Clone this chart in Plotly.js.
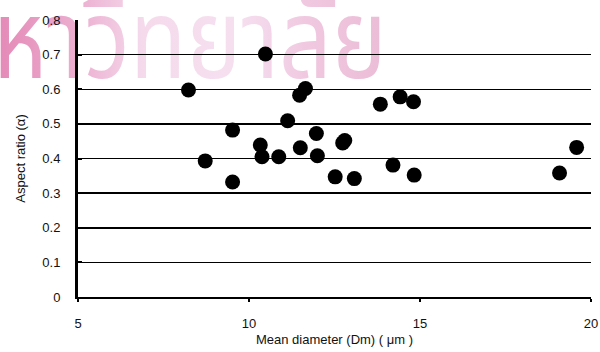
<!DOCTYPE html>
<html>
<head>
<meta charset="utf-8">
<script src="https://cdn.plot.ly/plotly-3.0.1.min.js"></script>
<style>html,body{margin:0;padding:0;background:#fff;}#chart{width:600px;height:352px;}</style>
</head>
<body>
<div id="chart"></div>
<script>
// Mean diameter Dm (µm)
const meanDiameter = [8.23, 10.48, 9.52, 8.72, 9.52, 10.33, 10.38, 10.87, 11.13, 11.48, 11.65, 11.5, 11.97, 12.0,
  12.74, 12.8, 12.52, 13.08, 14.21, 14.83, 13.84, 14.42, 14.81, 19.08, 19.58];
// Aspect ratio (alpha)
const aspectRatio = [0.598, 0.702, 0.482, 0.393, 0.332, 0.439, 0.405, 0.405, 0.509, 0.583, 0.602, 0.431, 0.472, 0.408,
  0.445, 0.452, 0.347, 0.342, 0.381, 0.352, 0.557, 0.578, 0.564, 0.358, 0.432];
const xTicks = [5, 10, 15, 20];
const yTicks = [0, 0.1, 0.2, 0.3, 0.4, 0.5, 0.6, 0.7, 0.8];
const yTickText = ['0', '0.1', '0.2', '0.3', '0.4', '0.5', '0.6', '0.7', '0.8'];
const watermark = 'หาวิทยาลัย';

const font = 'Arial, "Liberation Sans", sans-serif';
const wmFamily = '"Noto Sans Thai", "Noto Sans", Loma, Garuda, sans-serif';

const trace = {
  x: meanDiameter, y: aspectRatio, type: 'scatter', mode: 'markers',
  marker: {color: '#000', size: 15, line: {width: 0}},
  cliponaxis: false, hoverinfo: 'skip'
};

const layout = {
  width: 600, height: 352,
  margin: {l: 77.5, r: 9, t: 20, b: 55.3},
  paper_bgcolor: '#fff', plot_bgcolor: 'rgba(0,0,0,0)',
  showlegend: false,
  font: {family: font, size: 13, color: '#111'},
  xaxis: {
    range: [5, 20], tickvals: xTicks, ticktext: xTicks.map(String),
    showgrid: false, zeroline: false,
    showline: true, linecolor: '#000', linewidth: 2,
    ticks: 'outside', ticklen: 3, tickwidth: 2, tickcolor: '#000',
    ticklabelstandoff: 10,
    tickfont: {family: font, size: 13, color: '#111'},
    title: {text: 'Mean diameter (Dm) ( μm )', font: {family: font, size: 13, color: '#111'}, standoff: 5}
  },
  yaxis: {
    range: [0, 0.8], tickvals: yTicks, ticktext: yTickText,
    showgrid: true, gridcolor: '#000', gridwidth: 1.5,
    zeroline: false,
    showline: true, linecolor: '#000', linewidth: 3,
    ticks: 'inside', ticklen: 4, tickwidth: 2, tickcolor: '#000',
    ticklabelstandoff: 12,
    tickfont: {family: font, size: 13, color: '#111'},
    title: {text: 'Aspect ratio (α)', font: {family: font, size: 13, color: '#111'}, standoff: 14}
  },
  annotations: [{
    text: watermark, xref: 'paper', yref: 'paper',
    x: -0.155, y: 1.08, xanchor: 'left', yanchor: 'top',
    showarrow: false,
    font: {family: wmFamily, size: 100, color: 'rgb(240,200,222)'}
  }]
};

Plotly.newPlot('chart', [trace], layout, {staticPlot: true, displayModeBar: false}).then(function () {
  const el = document.querySelector('.annotation-text');
  if (!el) return;
  // measure the ink of the watermark to fit it to the reference's box
  const ctx = document.createElement('canvas').getContext('2d');
  ctx.font = '100px ' + wmFamily;
  const full = ctx.measureText(watermark);
  const body = ctx.measureText('หาวทยาลย');
  const bb = el.getBBox();
  const rect = el.getBoundingClientRect();
  const offX = rect.left - bb.x, offY = rect.top - bb.y;
  const fontAsc = full.fontBoundingBoxAscent || 100;
  const baseline = bb.y + fontAsc;
  const inkL = bb.x - full.actualBoundingBoxLeft;
  const inkR = bb.x + full.actualBoundingBoxRight;
  const bodyT = baseline - body.actualBoundingBoxAscent;
  const bodyB = baseline + body.actualBoundingBoxDescent;
  // target box (screen pixels)
  const tL = 0, tR = 380, tT = 15, tB = 79;
  const sx = (tR - tL) / (inkR - inkL);
  const sy = (tB - tT) / (bodyB - bodyT);
  const tx = (tL - offX) - inkL * sx;
  const ty = (tT - offY) - bodyT * sy;
  el.setAttribute('transform', 'translate(' + tx + ',' + ty + ') scale(' + sx + ',' + sy + ')');

  // soft pink gradient like the faded watermark
  const svgNS = 'http://www.w3.org/2000/svg';
  const svg = document.querySelector('.main-svg');
  const defs = svg.querySelector('defs') || svg.insertBefore(document.createElementNS(svgNS, 'defs'), svg.firstChild);
  const grad = document.createElementNS(svgNS, 'linearGradient');
  grad.setAttribute('id', 'wmgrad');
  grad.setAttribute('x1', '0'); grad.setAttribute('y1', '0');
  grad.setAttribute('x2', '1'); grad.setAttribute('y2', '0');
  [[0, 'rgb(228,135,182)'], [0.22, 'rgb(236,175,208)'], [0.38, 'rgb(245,218,236)'],
   [0.62, 'rgb(246,224,240)'], [0.8, 'rgb(240,200,224)'], [1, 'rgb(236,188,214)']].forEach(function (s) {
    const st = document.createElementNS(svgNS, 'stop');
    st.setAttribute('offset', s[0]);
    st.setAttribute('stop-color', s[1]);
    grad.appendChild(st);
  });
  defs.appendChild(grad);
  el.style.fill = 'url(#wmgrad)';

  // put the watermark behind the axes, grid and markers
  const ann = el.closest('.annotation');
  const below = document.querySelector('.main-svg .layer-below');
  if (ann && below) below.appendChild(ann);
});
</script>
</body>
</html>
